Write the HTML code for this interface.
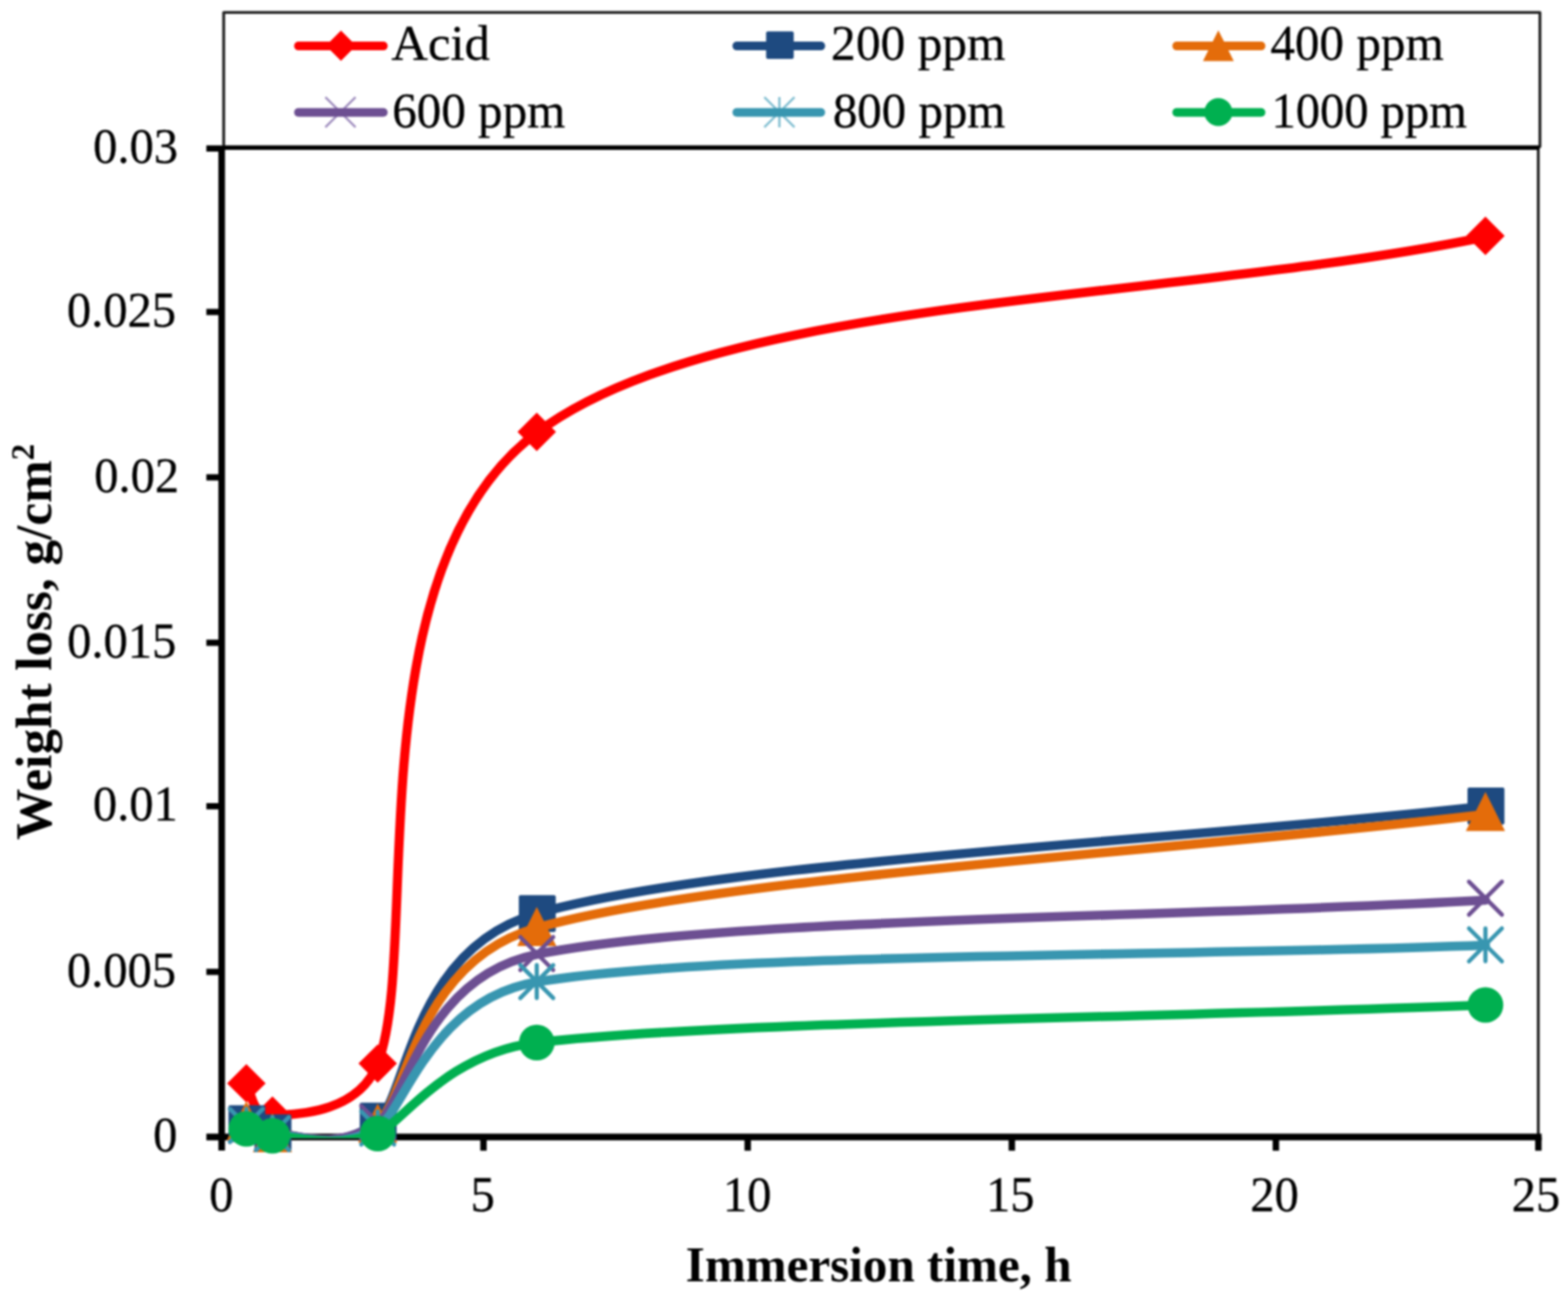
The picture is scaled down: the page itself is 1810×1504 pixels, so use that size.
<!DOCTYPE html>
<html lang="en"><head><meta charset="utf-8"><title>Weight loss vs immersion time</title>
<style>html,body{margin:0;padding:0;background:#fff}body{width:1810px;height:1504px;overflow:hidden}svg{display:block;filter:blur(1px)}text{font-family:"Liberation Serif","Times New Roman",serif;fill:#000;stroke:#000;stroke-width:.3px}#titles text{stroke:none}</style></head><body>
<svg width="1810" height="1504" viewBox="0 0 1810 1504">
<rect width="1810" height="1504" fill="#fff"/>
<g id="frame" fill="none">
<line x1="1775.7" y1="170.4" x2="1775.7" y2="1312.4" stroke="#151515" stroke-width="3.1"/>
<rect x="258.2" y="14.3" width="1519.4" height="155" stroke="#202020" stroke-width="3.3" fill="#fff" stroke-linejoin="round"/>
<line x1="255.9" y1="170.4" x2="1777.0" y2="170.4" stroke="#000" stroke-width="5"/>
<line x1="255.9" y1="168.4" x2="255.9" y2="1328.0" stroke="#000" stroke-width="7.6"/>
<line x1="238.2" y1="1312.4" x2="1779.5" y2="1312.4" stroke="#000" stroke-width="7.8"/>
<line x1="238.2" y1="1121.8" x2="255.9" y2="1121.8" stroke="#000" stroke-width="7.2"/>
<line x1="238.2" y1="930.6" x2="255.9" y2="930.6" stroke="#000" stroke-width="7.2"/>
<line x1="238.2" y1="741.9" x2="255.9" y2="741.9" stroke="#000" stroke-width="7.2"/>
<line x1="238.2" y1="551" x2="255.9" y2="551" stroke="#000" stroke-width="7.2"/>
<line x1="238.2" y1="360.1" x2="255.9" y2="360.1" stroke="#000" stroke-width="7.2"/>
<line x1="238.2" y1="171.4" x2="255.9" y2="171.4" stroke="#000" stroke-width="7.2"/>
<line x1="558.1" y1="1312.4" x2="558.1" y2="1328.2" stroke="#000" stroke-width="7.4"/>
<line x1="863.1" y1="1312.4" x2="863.1" y2="1328.2" stroke="#000" stroke-width="7.4"/>
<line x1="1168" y1="1312.4" x2="1168" y2="1328.2" stroke="#000" stroke-width="7.4"/>
<line x1="1472.8" y1="1312.4" x2="1472.8" y2="1328.2" stroke="#000" stroke-width="7.4"/>
<line x1="1775.8" y1="1312.4" x2="1775.8" y2="1328.2" stroke="#000" stroke-width="7.4"/>
</g>
<g id="yticks" font-size="56">
<text x="176.85" y="1329.2">0</text>
<text x="77.3" y="1138.6">0.005</text>
<text x="107.2" y="947.4">0.01</text>
<text x="77.55" y="758.7">0.015</text>
<text x="108.7" y="567.8">0.02</text>
<text x="77.3" y="376.9">0.025</text>
<text x="107.45" y="188.2">0.03</text>
</g>
<g id="xticks" font-size="56">
<text x="241.4" y="1397.6">0</text>
<text x="543.15" y="1397.6">5</text>
<text x="834.55" y="1397.6">10</text>
<text x="1138.25" y="1397.6">15</text>
<text x="1443.2" y="1397.6">20</text>
<text x="1744.95" y="1397.6">25</text>
</g>
<g id="titles" font-size="56">
<text transform="translate(791.58 1479.2) scale(1.0119 1)" font-weight="bold">Immersion time, h</text>
<text transform="translate(59.3 969.46) rotate(-90) scale(1.0552 1.0552)" font-weight="bold">Weight loss, g/cm<tspan font-size="36" dy="-19">2</tspan></text>
</g>
<defs><clipPath id="pc"><rect x="250" y="168" width="1530" height="1145.4"/></clipPath></defs>
<g id="series">
<g>
<path d="M284.4 1250.4 C289.11 1256.23 290.8 1291.26 314.5 1287.7 C326.66 1285.87 411.53 1290.81 436 1227.6 C486.85 1096.23 406.48 658.52 619.6 499.5 C832.72 340.48 1349.67 348.83 1714.7 273.5" fill="none" stroke="#FF0000" stroke-width="10.6" stroke-linecap="round" stroke-linejoin="round" clip-path="url(#pc)"/>
<path d="M284.4 1228.19L306.61 1250.4L284.4 1272.61L262.19 1250.4Z" fill="#FF0000"/>
<path d="M314.5 1265.49L336.71 1287.7L314.5 1309.91L292.29 1287.7Z" fill="#FF0000"/>
<path d="M436 1205.39L458.21 1227.6L436 1249.81L413.79 1227.6Z" fill="#FF0000"/>
<path d="M619.6 476.29L641.81 498.5L619.6 520.71L597.39 498.5Z" fill="#FF0000"/>
<path d="M1714.7 250.09L1736.91 272.3L1714.7 294.51L1692.49 272.3Z" fill="#FF0000"/>
</g>
<g>
<path d="M284.4 1297 C287.56 1298.1 298.56 1307.8 314.5 1307.5 C337.88 1307.05 388.95 1333.11 436 1294.1 C470.64 1265.38 474.43 1095.78 619.6 1054.5 C832.72 993.9 1349.67 971.83 1714.7 930.5" fill="none" stroke="#1E4A80" stroke-width="10.6" stroke-linecap="round" stroke-linejoin="round" clip-path="url(#pc)"/>
<rect x="263.68" y="1275.68" width="42.64" height="42.64" rx="2" fill="#1E4A80"/>
<rect x="293.78" y="1286.18" width="42.64" height="42.64" rx="2" fill="#1E4A80"/>
<rect x="415.28" y="1272.78" width="42.64" height="42.64" rx="2" fill="#1E4A80"/>
<rect x="598.88" y="1033.18" width="42.64" height="42.64" rx="2" fill="#1E4A80"/>
<rect x="1693.98" y="909.08" width="42.64" height="42.64" rx="2" fill="#1E4A80"/>
</g>
<g>
<path d="M284.4 1293.7 C287.69 1295.21 297.95 1307.22 314.5 1307.5 C338.46 1307.91 387.78 1333.68 436 1296.3 C469.4 1270.41 479.61 1110.01 619.6 1071 C832.72 1011.62 1349.67 983.67 1714.7 940" fill="none" stroke="#E46C0A" stroke-width="10.6" stroke-linecap="round" stroke-linejoin="round" clip-path="url(#pc)"/>
<path d="M284.4 1271.08L307.02 1316.32L261.78 1316.32Z" fill="#E46C0A"/>
<path d="M314.5 1284.88L337.12 1330.12L291.88 1330.12Z" fill="#E46C0A"/>
<path d="M436 1273.68L458.62 1318.92L413.38 1318.92Z" fill="#E46C0A"/>
<path d="M619.6 1046.78L642.22 1092.02L596.98 1092.02Z" fill="#E46C0A"/>
<path d="M1714.7 913.98L1737.32 959.22L1692.08 959.22Z" fill="#E46C0A"/>
</g>
<g>
<path d="M284.4 1299 C287.53 1299.99 298.72 1308.76 314.5 1308.5 C339.6 1308.09 385.48 1330.76 436 1296.5 C467.32 1275.26 488.36 1128.03 619.6 1101.6 C832.72 1058.68 1349.67 1059.87 1714.7 1039" fill="none" stroke="#6D4F92" stroke-width="10.6" stroke-linecap="round" stroke-linejoin="round" clip-path="url(#pc)"/>
<path d="M265.4 1280L303.4 1318M265.4 1318L303.4 1280" stroke="#6D4F92" stroke-width="4.8" fill="none" stroke-linecap="round"/>
<path d="M295.5 1289.5L333.5 1327.5M295.5 1327.5L333.5 1289.5" stroke="#6D4F92" stroke-width="4.8" fill="none" stroke-linecap="round"/>
<path d="M417 1276.5L455 1314.5M417 1314.5L455 1276.5" stroke="#6D4F92" stroke-width="4.8" fill="none" stroke-linecap="round"/>
<path d="M600.6 1081.6L638.6 1119.6M600.6 1119.6L638.6 1081.6" stroke="#6D4F92" stroke-width="4.8" fill="none" stroke-linecap="round"/>
<path d="M1695.7 1017.8L1733.7 1055.8M1695.7 1055.8L1733.7 1017.8" stroke="#6D4F92" stroke-width="4.8" fill="none" stroke-linecap="round"/>
</g>
<g>
<path d="M284.4 1299 C287.53 1299.99 298.72 1308.19 314.5 1308.5 C339.77 1309 385.15 1331.17 436 1302 C465.33 1285.17 496.66 1153.79 619.6 1133.5 C832.72 1098.33 1349.67 1105.17 1714.7 1091" fill="none" stroke="#3896B0" stroke-width="10.6" stroke-linecap="round" stroke-linejoin="round" clip-path="url(#pc)"/>
<path d="M265.4 1280L303.4 1318M265.4 1318L303.4 1280M284.4 1280L284.4 1318" stroke="#3896B0" stroke-width="4.8" fill="none" stroke-linecap="round"/>
<path d="M295.5 1289.5L333.5 1327.5M295.5 1327.5L333.5 1289.5M314.5 1289.5L314.5 1327.5" stroke="#3896B0" stroke-width="4.8" fill="none" stroke-linecap="round"/>
<path d="M417 1283L455 1321M417 1321L455 1283M436 1283L436 1321" stroke="#3896B0" stroke-width="4.8" fill="none" stroke-linecap="round"/>
<path d="M600.6 1114L638.6 1152M600.6 1152L638.6 1114M619.6 1114L619.6 1152" stroke="#3896B0" stroke-width="4.8" fill="none" stroke-linecap="round"/>
<path d="M1695.7 1071.6L1733.7 1109.6M1695.7 1109.6L1733.7 1071.6M1714.7 1071.6L1714.7 1109.6" stroke="#3896B0" stroke-width="4.8" fill="none" stroke-linecap="round"/>
</g>
<g>
<path d="M284.4 1303 C287.49 1303.82 298.94 1310.47 314.5 1311 C339.77 1311.87 385.15 1326.13 436 1308.2 C461.05 1299.36 514.6 1215.57 619.6 1203.4 C832.72 1178.7 1349.67 1174.47 1714.7 1160" fill="none" stroke="#00B050" stroke-width="10.6" stroke-linecap="round" stroke-linejoin="round" clip-path="url(#pc)"/>
<circle cx="284.4" cy="1303" r="20.6" fill="#00B050"/>
<circle cx="314.5" cy="1311" r="20.6" fill="#00B050"/>
<circle cx="436" cy="1308.4" r="20.6" fill="#00B050"/>
<circle cx="619.6" cy="1203.4" r="20.6" fill="#00B050"/>
<circle cx="1714.7" cy="1160" r="20.6" fill="#00B050"/>
</g>
</g>
<g id="legend" font-size="56">
<line x1="344.5" y1="53.1" x2="442.5" y2="53.1" stroke="#FF0000" stroke-width="10" stroke-linecap="round"/>
<path d="M393.6 35.24L411.06 52.7L393.6 70.16L376.14 52.7Z" fill="#FF0000"/>
<text transform="translate(451.76 68.5) scale(1.0439 1)">Acid</text>
<line x1="850.5" y1="53.1" x2="947.5" y2="53.1" stroke="#1E4A80" stroke-width="10" stroke-linecap="round"/>
<rect x="884.36" y="36.16" width="31.88" height="31.88" rx="2" fill="#1E4A80"/>
<text transform="translate(959.36 68.5) scale(1.0185 1)">200 ppm</text>
<line x1="1358.3" y1="53.1" x2="1455.7" y2="53.1" stroke="#E46C0A" stroke-width="10" stroke-linecap="round"/>
<path d="M1406.4 34.91L1424.19 70.49L1388.61 70.49Z" fill="#E46C0A"/>
<text transform="translate(1466.39 68.5) scale(1.0133 1)">400 ppm</text>
<path d="M375.6 112.1L410.4 146.9M375.6 146.9L410.4 112.1" stroke="#9F8DBE" stroke-width="2.6" fill="none" stroke-linecap="butt"/>
<line x1="344.5" y1="129.8" x2="442.5" y2="129.8" stroke="#6D4F92" stroke-width="10" stroke-linecap="round"/>
<text transform="translate(452.78 147) scale(1.0113 1)">600 ppm</text>
<path d="M882.3 112.1L917.1 146.9M882.3 146.9L917.1 112.1M899.7 112.1L899.7 146.9" stroke="#7FBDD0" stroke-width="2.6" fill="none" stroke-linecap="butt"/>
<line x1="850.5" y1="129.8" x2="947.5" y2="129.8" stroke="#3896B0" stroke-width="10" stroke-linecap="round"/>
<text transform="translate(961.38 147) scale(1.0082 1)">800 ppm</text>
<line x1="1358.3" y1="129.8" x2="1455.7" y2="129.8" stroke="#00B050" stroke-width="10" stroke-linecap="round"/>
<circle cx="1406.4" cy="129.4" r="16.2" fill="#00B050"/>
<text x="1467.79" y="147">1000 ppm</text>
</g>
</svg></body></html>
